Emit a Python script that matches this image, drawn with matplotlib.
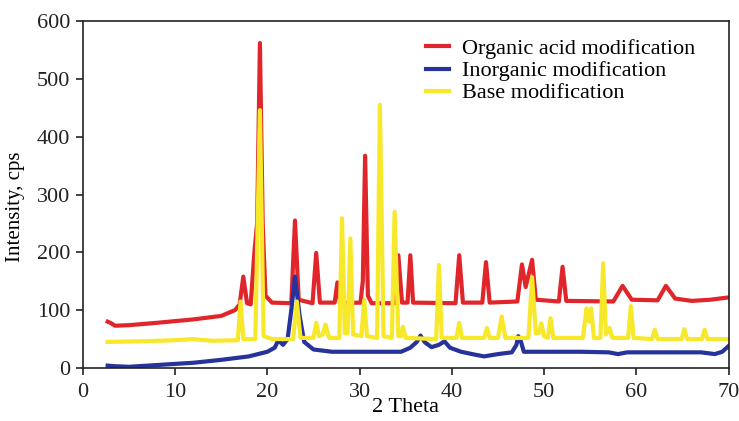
import matplotlib.pyplot as plt

# peak-trace points (2 theta, intensity)
organic_x = [2.7, 3.0, 3.5, 5, 8, 12, 15, 16.5, 17.0, 17.4, 17.8, 18.2, 18.6, 18.9, 19.2, 19.5, 19.8,
             20.5, 22.6, 23.0, 23.4, 24.9, 25.3, 25.7, 27.3, 27.6, 27.9, 30.1, 30.35, 30.6, 30.9, 31.3,
             33.8, 34.2, 34.6, 35.2, 35.5, 35.8, 40.4, 40.8, 41.2, 43.3, 43.7, 44.1, 47.1, 47.6, 48.0,
             48.7, 49.1, 51.6, 52.0, 52.4, 57.5, 58.5, 59.5, 62.3, 63.2, 64.2, 66, 68, 70]
organic_y = [80, 78, 73, 74, 78, 84, 90, 100, 110, 158, 112, 110, 200, 250, 562, 250, 125,
             113, 112, 255, 118, 112, 199, 113, 113, 148, 112, 113, 150, 367, 125, 112,
             112, 195, 113, 113, 195, 113, 112, 195, 113, 113, 183, 113, 115, 179, 140,
             187, 118, 115, 175, 116, 115, 142, 118, 117, 142, 120, 116, 118, 122]

inorganic_x = [2.7, 3.5, 5, 8, 12, 15, 18, 20, 20.8, 21.2, 21.7, 22.2, 22.6, 23.0, 23.5, 24.0, 25.0,
               27, 34.5, 35.5, 36.2, 36.6, 37.1, 37.8, 38.6, 39.2, 39.8, 41.0, 42.5, 43.5, 45, 46.5,
               47.0, 47.2, 47.5, 47.8, 54, 57, 58, 59, 67, 68.5, 69.3, 70]
inorganic_y = [4, 3, 2, 5, 9, 14, 20, 28, 35, 48, 40, 50, 100, 158, 90, 45, 32,
               28, 28, 35, 45, 56, 44, 36, 40, 46, 35, 28, 23, 20, 24, 27,
               40, 55, 45, 28, 28, 27, 24, 27, 27, 24, 28, 38]

base_x = [2.7, 6, 10, 11.8, 14, 16.8, 17.1, 17.4, 18.7, 19.2, 19.6, 20.5, 22.8, 23.2, 23.6, 25.0, 25.3,
          25.6, 26.0, 26.3, 26.7, 27.8, 28.1, 28.4, 28.7, 29.0, 29.3, 30.2, 30.5, 30.8, 31.9, 32.2,
          32.6, 33.5, 33.8, 34.2, 34.5, 34.7, 35.0, 38.3, 38.6, 38.9, 40.5, 40.8, 41.1, 43.5, 43.8,
          44.1, 45.0, 45.4, 45.8, 48.3, 48.7, 49.1, 49.4, 49.7, 50.0, 50.4, 50.7, 51.0, 54.2, 54.6,
          54.85, 55.1, 55.4, 56.1, 56.4, 56.7, 57.1, 57.4, 59.1, 59.4, 59.7, 61.7, 62.0, 62.3, 64.9,
          65.2, 65.5, 67.1, 67.4, 67.7, 70]
base_y = [45, 46, 48, 50, 47, 48, 115, 50, 50, 446, 55, 50, 50, 115, 52, 52, 78,
          55, 58, 75, 52, 52, 259, 60, 60, 224, 58, 55, 118, 55, 52, 455,
          55, 52, 270, 55, 55, 71, 52, 50, 178, 52, 52, 78, 52, 52, 69,
          52, 52, 89, 52, 52, 157, 60, 60, 77, 55, 52, 86, 52, 52, 103,
          80, 103, 52, 52, 181, 58, 69, 52, 52, 107, 52, 50, 66, 50, 50,
          67, 50, 50, 66, 50, 50]

plt.rcParams['font.family'] = ['Liberation Serif', 'DejaVu Serif']

fig = plt.figure(figsize=(7.39, 4.21), dpi=100)
ax = fig.add_axes([0.112, 0.126, 0.874, 0.824])

ax.plot(organic_x, organic_y, color="#e0252b", linewidth=3, label="Organic acid modification")
ax.plot(inorganic_x, inorganic_y, color="#27329a", linewidth=3, label="Inorganic modification")
ax.plot(base_x, base_y, color="#f7e82a", linewidth=3, label="Base modification")

ax.set_xlim(0, 70)
ax.set_ylim(0, 600)
ax.set_xticks(range(0, 71, 10))
ax.set_yticks(range(0, 601, 100))
ax.tick_params(labelsize=16, length=5, width=1.2, colors="#222222")
ax.tick_params(axis="x", pad=6)
ax.tick_params(axis="y", pad=4)
for s in ax.spines.values():
    s.set_linewidth(1.2)
    s.set_color("#222222")

ax.set_xlabel("2 Theta", fontsize=16, labelpad=-3)
ax.set_ylabel("Intensity, cps", fontsize=15)
ax.yaxis.set_label_coords(-0.09, 0.464)

ax.legend(loc="upper right", bbox_to_anchor=(0.962, 0.975), frameon=False, fontsize=16,
          handlelength=1.0, handletextpad=0.6, labelspacing=0.07, borderaxespad=0)

fig.savefig("out.png", dpi=100)
